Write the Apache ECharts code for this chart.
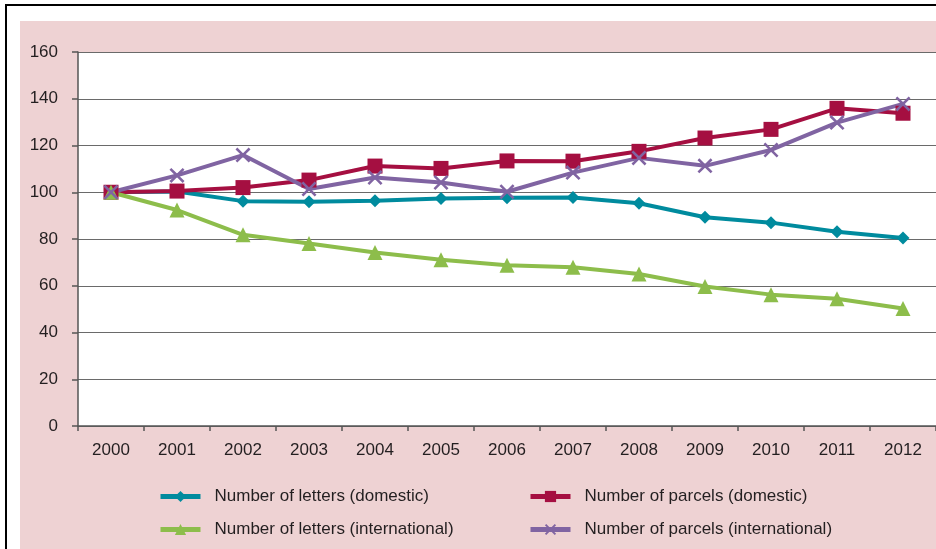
<!DOCTYPE html>
<html>
<head>
<meta charset="utf-8">
<script src="https://cdn.jsdelivr.net/npm/echarts@6/dist/echarts.min.js"></script>
<style>
html,body{margin:0;padding:0;background:#fff;}
#chart{width:936px;height:549px;}
</style>
</head>
<body>
<div id="chart"></div>
<script>
const years = ['2000','2001','2002','2003','2004','2005','2006','2007','2008','2009','2010','2011','2012'];
const lettersDomestic = [100, 100.3, 96.2, 95.9, 96.4, 97.3, 97.7, 97.8, 95.3, 89.3, 87.0, 83.1, 80.4];
const parcelsDomestic = [100, 100.5, 102.0, 105.2, 111.2, 110.2, 113.4, 113.3, 117.5, 123.2, 126.9, 135.9, 133.8];
const lettersInternational = [100, 92.4, 81.8, 78.1, 74.2, 71.1, 68.8, 67.9, 65.0, 59.7, 56.2, 54.4, 50.3];
const parcelsInternational = [100, 107.2, 115.9, 101.4, 106.3, 104.2, 100.2, 108.4, 114.7, 111.3, 118.1, 129.8, 137.8];
const names = ['Number of letters (domestic)', 'Number of parcels (domestic)', 'Number of letters (international)', 'Number of parcels (international)'];

const FONT = 'Liberation Sans';
const TXT = '#231f20';
const xPath = 'path://M0,1.2L1.2,0L5,3.8L8.8,0L10,1.2L6.2,5L10,8.8L8.8,10L5,6.2L1.2,10L0,8.8L3.8,5Z';

const chart = echarts.init(document.getElementById('chart'));
chart.setOption({
  animation: false,
  backgroundColor: '#ffffff',
  graphic: [
    { type: 'rect', z: -10, shape: { x: 20, y: 21, width: 916, height: 528 }, style: { fill: '#eed2d3' } },
    { type: 'rect', z: -9, shape: { x: 5, y: 4, width: 931, height: 2 }, style: { fill: '#000' } },
    { type: 'rect', z: -9, shape: { x: 5, y: 4, width: 2, height: 545 }, style: { fill: '#000' } }
  ],
  grid: { left: 78, top: 52, bottom: 123, right: -7, show: true, backgroundColor: '#ffffff', borderWidth: 0 },
  xAxis: {
    type: 'category',
    data: years,
    boundaryGap: true,
    axisLine: { show: true, lineStyle: { color: '#555', width: 1.5 } },
    axisTick: { show: true, length: 5, lineStyle: { color: '#555', width: 1.5 } },
    axisLabel: { color: TXT, fontFamily: FONT, fontSize: 17, margin: 16 }
  },
  yAxis: {
    type: 'value',
    min: 0, max: 160, interval: 20,
    axisLine: { show: true, lineStyle: { color: '#555', width: 1.5 } },
    axisTick: { show: true, length: 6, lineStyle: { color: '#555', width: 1.5 } },
    axisLabel: { color: TXT, fontFamily: FONT, fontSize: 17, margin: 20 },
    splitLine: { show: true, lineStyle: { color: '#6a6a6a', width: 1 } }
  },
  legend: [
    {
      data: [names[0], names[2]],
      orient: 'vertical', left: 158, top: 488, itemGap: 16, padding: 0,
      itemWidth: 40, itemHeight: 14,
      textStyle: { color: TXT, fontFamily: FONT, fontSize: 17, padding: [0, 0, 0, 9] },
      lineStyle: { width: 5 }
    },
    {
      data: [names[1], names[3]],
      orient: 'vertical', left: 528, top: 488, itemGap: 16, padding: 0,
      itemWidth: 40, itemHeight: 14,
      textStyle: { color: TXT, fontFamily: FONT, fontSize: 17, padding: [0, 0, 0, 9] },
      lineStyle: { width: 5 }
    }
  ],
  series: [
    { name: names[0], type: 'line', data: lettersDomestic, color: '#008b9e',
      lineStyle: { width: 4 }, symbol: 'diamond', symbolSize: 13 },
    { name: names[1], type: 'line', data: parcelsDomestic, color: '#a50f41',
      lineStyle: { width: 4 }, symbol: 'rect', symbolSize: 15 },
    { name: names[2], type: 'line', data: lettersInternational, color: '#8dbd4b',
      lineStyle: { width: 4 }, symbol: 'triangle', symbolSize: 15 },
    { name: names[3], type: 'line', data: parcelsInternational, color: '#8064a2',
      lineStyle: { width: 4 }, symbol: xPath, symbolSize: 15 }
  ]
});
</script>
</body>
</html>
